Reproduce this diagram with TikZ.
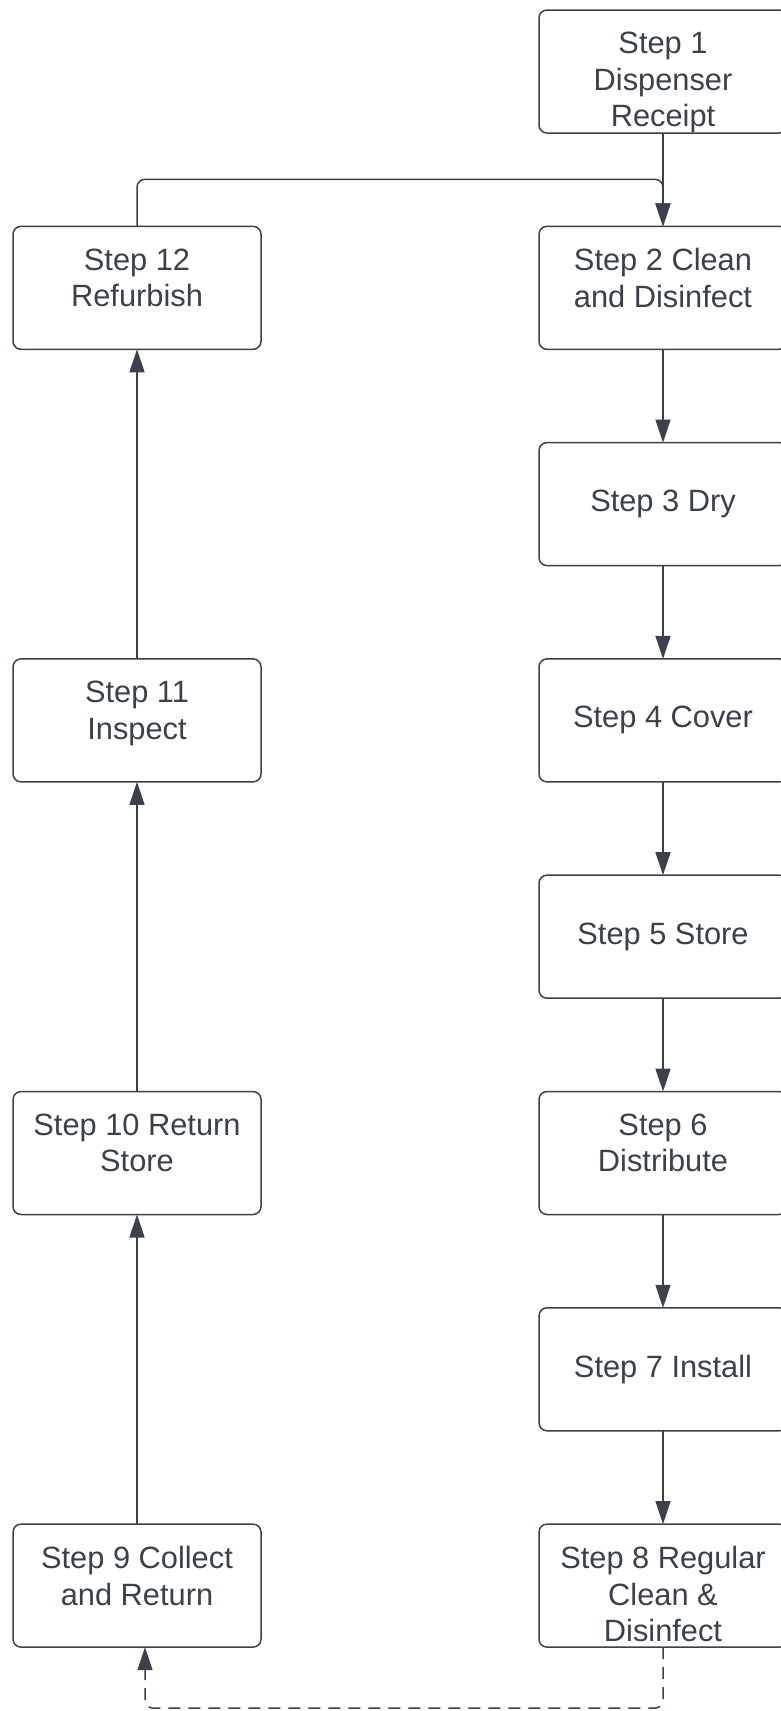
\documentclass[tikz,border=0pt]{standalone}
\usepackage{fontspec}
\setmainfont{Liberation Sans}
\usepackage{tikz}
\usetikzlibrary{positioning,arrows.meta}
\definecolor{lineclr}{HTML}{3A414A}

\begin{document}
\begin{tikzpicture}[x=1pt,y=1pt,
    stepbox/.style={draw=lineclr,line width=1.5pt,rounded corners=8pt,
      minimum width=248pt,minimum height=123pt,inner sep=0pt,outer sep=0pt},
    steptext/.style={text=lineclr,align=center,inner sep=0pt,
      font=\fontsize{30.8}{36.5}\selectfont},
    conn/.style={draw=lineclr,line width=1.5pt,-{Triangle[length=23pt,width=15pt]}}]
  \useasboundingbox (0,0) rectangle (781,-1711);
  % right column, top to bottom
  \node[stepbox] (s1) at (663,-71.5) {};
  \node[stepbox,below=93.3pt of s1] (s2) {};
  \node[stepbox,below=93.3pt of s2] (s3) {};
  \node[stepbox,below=93.3pt of s3] (s4) {};
  \node[stepbox,below=93.3pt of s4] (s5) {};
  \node[stepbox,below=93.3pt of s5] (s6) {};
  \node[stepbox,below=93.3pt of s6] (s7) {};
  \node[stepbox,below=93.3pt of s7] (s8) {};
  % left column
  \node[stepbox,left=278pt of s8] (s9) {};
  \node[stepbox,left=278pt of s6] (s10) {};
  \node[stepbox,left=278pt of s4] (s11) {};
  \node[stepbox,left=278pt of s2] (s12) {};
  % texts
  \node[steptext,anchor=north] (t1) at ([yshift=-22pt]s1.north) {Step 1\\Dispenser\\Receipt};
  \node[steptext,anchor=north] (t2) at ([yshift=-22pt]s2.north) {Step 2 Clean\\and Disinfect};
  \node[steptext] (t3) at (s3) {Step 3 Dry};
  \node[steptext] (t4) at (s4) {Step 4 Cover};
  \node[steptext] (t5) at (s5) {Step 5 Store};
  \node[steptext,anchor=north] (t6) at ([yshift=-22pt]s6.north) {Step 6\\Distribute};
  \node[steptext] (t7) at (s7) {Step 7 Install};
  \node[steptext,anchor=north] (t8) at ([yshift=-22pt]s8.north) {Step 8 Regular\\Clean \&\\Disinfect};
  \node[steptext,anchor=north] (t9) at ([yshift=-22pt]s9.north) {Step 9 Collect\\and Return};
  \node[steptext,anchor=north] (t10) at ([yshift=-22pt]s10.north) {Step 10 Return\\Store};
  \node[steptext,anchor=north] (t11) at ([yshift=-22pt]s11.north) {Step 11\\Inspect};
  \node[steptext,anchor=north] (t12) at ([yshift=-22pt]s12.north) {Step 12\\Refurbish};
  % connectors
  \coordinate (j) at ([yshift=47pt]s2.north);
  \coordinate (d) at ([yshift=-61pt]s8.south);
  \draw[conn] (s1) -- (s2);
  \draw[conn,rounded corners=8pt] (s12.north) |- (j) -- (s2.north);
  \draw[conn] (s2) -- (s3);
  \draw[conn] (s3) -- (s4);
  \draw[conn] (s4) -- (s5);
  \draw[conn] (s5) -- (s6);
  \draw[conn] (s6) -- (s7);
  \draw[conn] (s7) -- (s8);
  \draw[conn,dash pattern=on 12pt off 8pt,rounded corners=8pt]
    (s8.south) -- (d) -| ([xshift=8pt]s9.south);
  \draw[conn] (s9) -- (s10);
  \draw[conn] (s10) -- (s11);
  \draw[conn] (s11) -- (s12);
\end{tikzpicture}
\end{document}
